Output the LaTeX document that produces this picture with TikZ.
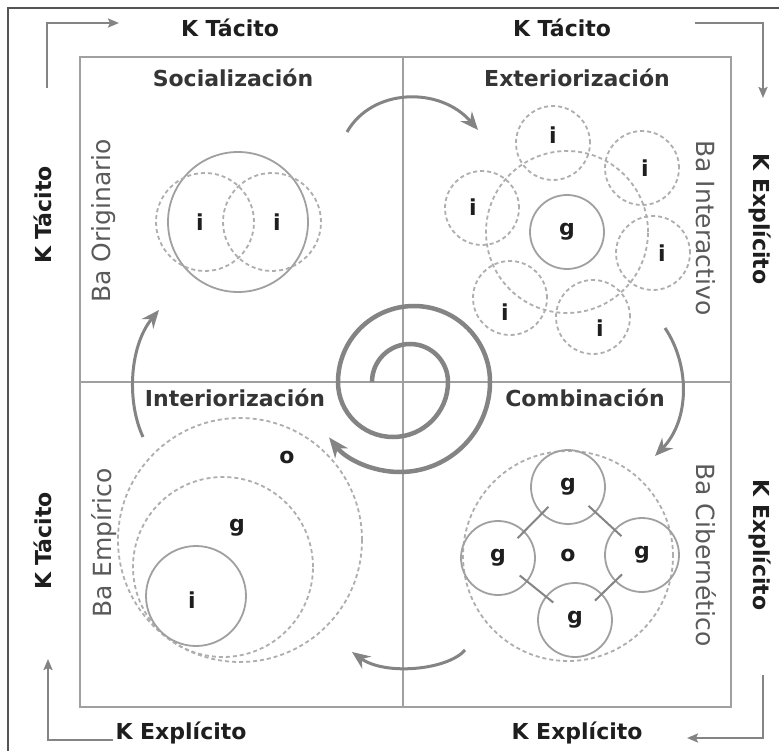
\documentclass[tikz,border=0pt]{standalone}
\usepackage{fontspec}
\setmainfont{DejaVu Sans}
\usetikzlibrary{arrows.meta}
\definecolor{lgray}{HTML}{A0A0A0}
\definecolor{dgray}{HTML}{848484}
\definecolor{framec}{HTML}{555555}
\definecolor{txt}{HTML}{1E1E1E}
\definecolor{batxt}{HTML}{5A5A5A}
\begin{document}
\begin{tikzpicture}[x=1pt,y=-1pt,
  klabel/.style={font=\fontsize{22}{24}\selectfont\bfseries, text=txt, inner sep=0pt},
  qlabel/.style={font=\fontsize{22}{24}\selectfont\bfseries, text=txt!90, inner sep=0pt},
  balabel/.style={font=\fontsize{25}{27}\selectfont, text=batxt, inner sep=0pt},
  letter/.style={font=\fontsize{22}{24}\selectfont\bfseries, text=txt, inner sep=0pt},
  solidc/.style={circle, draw=lgray, line width=1.8pt, inner sep=0pt, minimum size=#1},
  dashc/.style={circle, draw=lgray!85, line width=1.8pt, dash pattern=on 4pt off 3pt, inner sep=0pt, minimum size=#1},
  bigarrow/.style={draw=dgray, line width=3pt, -{Stealth[length=18pt,width=15pt,inset=6pt]}},
  cornerarrow/.style={draw=dgray, line width=2.2pt, -{Stealth[length=11pt,width=9pt,inset=2pt]}},
  link/.style={draw=dgray, line width=2pt, shorten <=-10pt, shorten >=-10pt},
]
\useasboundingbox (0,0) rectangle (779,751);
\fill[white] (0,0) rectangle (779,751);
% outer frame (left and top)
\draw[framec, line width=1.6pt] (8,751) -- (8,8) -- (779,8);

% inner box and dividers
\draw[lgray, line width=1.6pt] (403,57) -- (403,707);
\draw[lgray, line width=1.6pt] (80,382) -- (731,382);
\draw[lgray, line width=2pt] (80,57) rectangle (731,707);

% corner arrows
\coordinate (tl1) at (47,88); \coordinate (tl2) at (47,23); \coordinate (tl3) at (119,23);
\coordinate (tr1) at (695,23); \coordinate (tr2) at (763,23); \coordinate (tr3) at (763,98);
\coordinate (br1) at (763,675); \coordinate (br2) at (763,738); \coordinate (br3) at (687,738);
\coordinate (bl1) at (113,740); \coordinate (bl2) at (48,740); \coordinate (bl3) at (48,659);
\draw[cornerarrow] (tl1) -- (tl2) -- (tl3);
\draw[cornerarrow] (tr1) -- (tr2) -- (tr3);
\draw[cornerarrow] (br1) -- (br2) -- (br3);
\draw[cornerarrow] (bl1) -- (bl2) -- (bl3);

% outer labels
\node[klabel] (kt1) at (230,28) {K Tácito};
\node[klabel] (kt2) at (562,28) {K Tácito};
\node[klabel] (ke1) at (181,733) {K Explícito};
\node[klabel] (ke2) at (577,733) {K Explícito};
\node[klabel, rotate=90] (kt3) at (43,215) {K Tácito};
\node[klabel, rotate=90] (kt4) at (43,541) {K Tácito};
\node[klabel, rotate=-90] (ke3) at (760,219) {K Explícito};
\node[klabel, rotate=-90] (ke4) at (760,545) {K Explícito};

% quadrant titles
\node[qlabel] (soc) at (233,78) {Socialización};
\node[qlabel] (ext) at (577,78) {Exteriorización};
\node[qlabel] (int) at (235,398) {Interiorización};
\node[qlabel] (com) at (585,398) {Combinación};

% Ba labels
\node[balabel, rotate=90] (bao) at (104,221) {Ba Originario};
\node[balabel, rotate=90] (bae) at (104,543) {Ba Empírico};
\node[balabel, rotate=-90] (bai) at (706,228) {Ba Interactivo};
\node[balabel, rotate=-90] (bac) at (706,555) {Ba Cibernético};

% Socialización
\node[solidc=140pt] (sbig) at (238,222) {};
\node[dashc=98pt] (sd1) at (205,222) {};
\node[dashc=98pt] (sd2) at (272,222) {};
\node[letter] (si1) at (200,222) {i};
\node[letter] (si2) at (277,222) {i};

% Exteriorización
\node[dashc=162pt] (ering) at (567,232) {};
\node[solidc=74pt, letter] (eg) at (567,232) {g};
\node[dashc=74pt] (ec1) at (553,143) {};
\node[dashc=74pt] (ec2) at (642,168) {};
\node[dashc=74pt] (ec3) at (482,208) {};
\node[dashc=74pt] (ec4) at (653,253) {};
\node[dashc=74pt] (ec5) at (510,298) {};
\node[dashc=74pt] (ec6) at (593,317) {};
\node[letter] (ei1) at (553,135) {i};
\node[letter] (ei2) at (645,168) {i};
\node[letter] (ei3) at (473,207) {i};
\node[letter] (ei4) at (662,253) {i};
\node[letter] (ei5) at (505,312) {i};
\node[letter] (ei6) at (600,328) {i};

% Combinación
\node[dashc=210pt] (cring) at (568,556) {};
\node[solidc=74pt, letter] (cg1) at (568,487) {g};
\node[solidc=74pt, letter] (cg2) at (498,558) {g};
\node[solidc=74pt, letter] (cg3) at (642,555) {g};
\node[solidc=74pt, letter] (cg4) at (575,620) {g};
\node[letter] (co) at (568,555) {o};
\draw[link] (cg2) -- (cg1);
\draw[link] (cg1) -- (cg3);
\draw[link] (cg2) -- (cg4);
\draw[link] (cg4) -- (cg3);

% Interiorización
\node[dashc=244pt] (iring) at (240,540) {};
\node[dashc=180pt] (imid) at (223,567) {};
\node[solidc=100pt] (isol) at (196,596) {};
\node[letter] (io) at (287,457) {o};
\node[letter] (ig) at (237,528) {g};
\node[letter] (ii) at (192,600) {i};

% big curved arrows
\coordinate (a1s) at (347,132); \coordinate (a1e) at (478,130);
\coordinate (a2s) at (665,328); \coordinate (a2e) at (655,456);
\coordinate (a3s) at (465,650); \coordinate (a3e) at (352,652);
\coordinate (a4s) at (143,437); \coordinate (a4e) at (159,310);
\draw[bigarrow] (a1s) .. controls (372,88) and (440,86) .. (a1e);
\draw[bigarrow] (a2s) .. controls (690,365) and (690,420) .. (a2e);
\draw[bigarrow] (a3s) .. controls (448,670) and (385,676) .. (a3e);
\draw[bigarrow] (a4s) .. controls (126,400) and (130,345) .. (a4e);

% spiral
\coordinate (sp) at (372,382);
\draw[dgray, line width=4.5pt, -{Stealth[length=20pt,width=16pt,inset=6pt]}]
  (sp) arc[start angle=180, end angle=360, radius=38]
       arc[start angle=0, end angle=180, radius=55]
       arc[start angle=180, end angle=360, radius=76]
       arc[start angle=0, end angle=142, radius=90];
\end{tikzpicture}
\end{document}
